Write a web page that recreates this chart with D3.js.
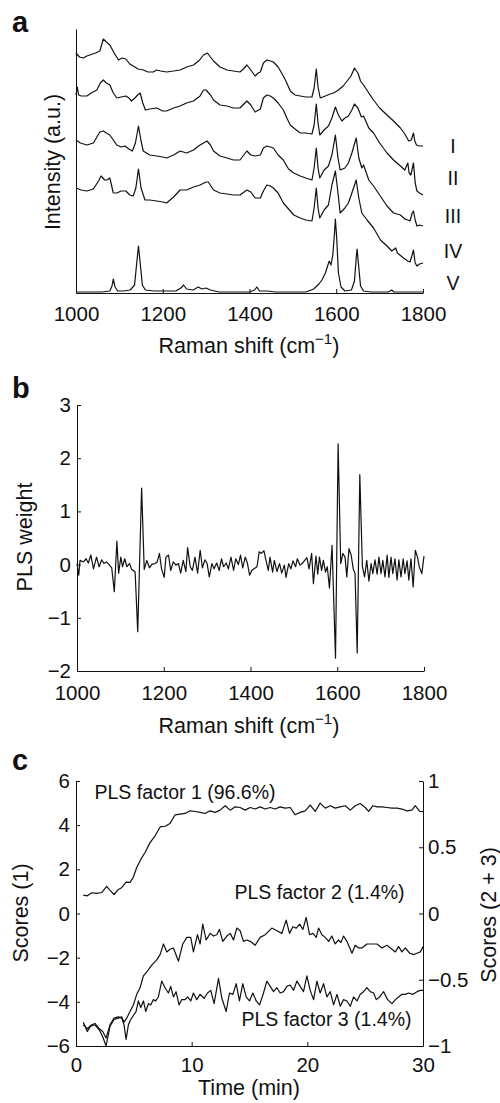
<!DOCTYPE html>
<html>
<head>
<meta charset="utf-8">
<script src="https://cdn.jsdelivr.net/npm/d3@7"></script>
<style>
  body { margin: 0; background: #fff; }
  svg text { font-family: "Liberation Sans", Arial, sans-serif; fill: #111; }
</style>
</head>
<body>
<div id="chart"></div>
<script>
// Raman spectra (a), PLS weight (b) and PLS scores over time (c)

// ---- panel a : spectra, [shift cm-1, intensity a.u.] ----
const specI = [[1000,240],[1008,236],[1017,235],[1025,237],[1032,238],[1045,240],[1055,242],[1063,254],[1070,251],[1078,248],[1088,240],[1098,233],[1106,235],[1115,234],[1124,229],[1132,227],[1143,224],[1155,223],[1166,221],[1178,221],[1186,223],[1195,222],[1209,221],[1225,222],[1240,223],[1255,226],[1271,228],[1285,233],[1294,238],[1303,240],[1310,236],[1317,232],[1332,226],[1348,223],[1363,222],[1378,221],[1386,224],[1394,228],[1403,223],[1413,217],[1420,220],[1425,221],[1432,230],[1440,233],[1448,232],[1455,231],[1466,226],[1478,217],[1486,210],[1494,202],[1505,198],[1517,197],[1530,196],[1544,196],[1549,205],[1554,224],[1558,206],[1563,195],[1575,197],[1586,199],[1594,200],[1605,203],[1616,207],[1625,212],[1634,217],[1642,225],[1650,220],[1656,212],[1663,208],[1675,200],[1686,193],[1700,185],[1717,178],[1732,172],[1748,165],[1758,159],[1767,152],[1773,153],[1778,160],[1781,152],[1785,148],[1792,147],[1800,147]];
const specII = [[1000,198],[1003,206],[1006,198],[1012,197],[1025,197],[1035,200],[1048,203],[1056,210],[1063,213],[1070,210],[1078,208],[1086,200],[1094,195],[1104,196],[1115,197],[1122,195],[1128,192],[1136,195],[1142,198],[1148,200],[1154,190],[1160,183],[1170,184],[1186,185],[1200,182],[1209,182],[1225,185],[1240,187],[1255,190],[1271,192],[1286,197],[1294,203],[1300,203],[1310,198],[1317,193],[1332,188],[1348,187],[1363,185],[1378,185],[1394,192],[1403,188],[1413,181],[1425,184],[1432,195],[1440,198],[1448,197],[1455,195],[1466,190],[1478,183],[1486,175],[1494,168],[1505,164],[1517,160],[1530,160],[1544,159],[1549,168],[1554,189],[1558,170],[1562,158],[1572,163],[1582,167],[1590,175],[1598,186],[1605,178],[1613,172],[1620,175],[1628,177],[1636,183],[1642,189],[1650,185],[1658,176],[1663,177],[1675,165],[1686,160],[1700,150],[1717,140],[1732,133],[1748,127],[1758,123],[1765,130],[1768,120],[1772,118],[1778,130],[1782,110],[1786,102],[1792,100],[1800,98]];
const specIII = [[1000,153],[1010,150],[1025,148],[1040,150],[1055,161],[1063,162],[1070,160],[1078,158],[1086,153],[1094,148],[1104,146],[1113,147],[1122,144],[1130,142],[1137,150],[1144,167],[1150,152],[1155,142],[1170,138],[1186,137],[1200,136],[1209,135],[1225,138],[1240,142],[1255,140],[1271,143],[1286,148],[1302,152],[1310,148],[1317,142],[1332,137],[1348,135],[1363,133],[1378,133],[1394,142],[1403,138],[1413,137],[1425,138],[1432,145],[1440,147],[1448,146],[1455,145],[1466,138],[1478,133],[1490,124],[1502,120],[1517,117],[1530,115],[1544,113],[1549,125],[1554,145],[1558,125],[1562,115],[1572,123],[1582,127],[1590,138],[1598,158],[1604,135],[1609,123],[1620,125],[1628,130],[1636,140],[1646,155],[1652,135],[1659,125],[1663,128],[1675,113],[1686,107],[1700,98],[1717,87],[1732,80],[1748,78],[1758,74],[1765,73],[1770,72],[1775,80],[1778,82],[1782,73],[1786,67],[1792,68],[1800,67]];
const specIV = [[1000,105],[1012,103],[1025,102],[1040,104],[1052,112],[1058,117],[1066,113],[1071,113],[1078,115],[1086,100],[1094,100],[1104,102],[1115,102],[1124,98],[1132,97],[1138,105],[1144,124],[1150,105],[1159,93],[1170,93],[1186,92],[1200,91],[1209,90],[1225,96],[1240,103],[1255,103],[1271,106],[1286,108],[1300,111],[1305,111],[1317,103],[1332,100],[1348,99],[1363,98],[1378,98],[1394,103],[1403,101],[1413,95],[1425,95],[1432,102],[1440,108],[1448,107],[1455,105],[1466,100],[1478,90],[1490,84],[1502,78],[1517,75],[1530,73],[1544,72],[1549,85],[1554,105],[1558,85],[1562,75],[1572,83],[1582,88],[1590,108],[1598,122],[1604,100],[1609,80],[1620,85],[1628,90],[1636,100],[1646,113],[1652,95],[1659,80],[1671,73],[1686,65],[1702,53],[1717,47],[1728,42],[1737,45],[1741,40],[1755,35],[1765,32],[1770,31],[1775,38],[1778,43],[1782,30],[1786,27],[1792,29],[1800,30]];
const specV = [[1000,1],[1020,1],[1040,1],[1060,1],[1078,2],[1083,7],[1086,14],[1090,6],[1096,2],[1110,2],[1125,3],[1135,8],[1140,30],[1144,47],[1148,30],[1153,8],[1160,3],[1180,2],[1200,2],[1230,2],[1242,5],[1248,8],[1255,4],[1270,3],[1282,6],[1290,4],[1300,5],[1310,3],[1330,1],[1360,1],[1400,1],[1412,3],[1417,6],[1423,2],[1440,2],[1460,1],[1500,1],[1530,1],[1548,4],[1560,9],[1567,13],[1575,20],[1580,27],[1584,32],[1588,28],[1592,38],[1596,60],[1598,74],[1601,55],[1605,20],[1611,6],[1620,2],[1635,3],[1642,12],[1646,35],[1648,44],[1651,30],[1656,7],[1663,2],[1680,1],[1720,1],[1728,3],[1733,1],[1760,1],[1800,1]];
const spectra = [specI, specII, specIII, specIV, specV];
const spectrumNames = ["I", "II", "III", "IV", "V"];
const spectrumLabelLevel = [140, 108, 70, 35, 3];   // intensity where each roman label sits
const shiftTicks = [1000, 1200, 1400, 1600, 1800];

// ---- panel b : PLS weight ----
const weightShift = [1000,1004,1007,1015,1021,1026,1032,1038,1045,1051,1057,1062,1068,1075,1080,1086,1092,1096,1101,1105,1110,1115,1121,1126,1130,1134,1140,1149,1155,1161,1167,1173,1180,1185,1190,1195,1201,1205,1211,1216,1222,1228,1234,1239,1245,1251,1255,1261,1266,1272,1278,1284,1289,1295,1300,1305,1311,1316,1322,1328,1333,1338,1344,1349,1355,1361,1366,1372,1377,1382,1388,1393,1398,1403,1408,1415,1420,1425,1431,1436,1441,1445,1451,1455,1461,1467,1472,1478,1482,1488,1493,1498,1504,1508,1514,1519,1525,1530,1535,1541,1545,1551,1555,1559,1564,1568,1573,1577,1582,1588,1596,1602,1608,1613,1618,1622,1627,1632,1637,1641,1646,1652,1658,1663,1668,1673,1678,1682,1687,1692,1696,1701,1705,1710,1715,1719,1724,1728,1733,1738,1742,1747,1752,1756,1761,1765,1770,1775,1780,1785,1789,1795,1800];
const weightValue = [0.02,-0.20,0.08,0.05,0.11,0.03,0.18,-0.08,0.14,-0.04,0.09,0.02,0.05,-0.01,-0.06,-0.51,0.44,-0.16,0.14,-0.04,0.11,-0.04,0.02,-0.09,-0.11,-0.14,-1.26,1.44,-0.09,0.08,-0.06,0.01,0.02,0.05,0.21,-0.08,-0.24,0.14,0.18,-0.11,0.05,-0.01,0.02,-0.16,0.08,-0.13,0.32,-0.04,-0.11,0.14,-0.16,0.27,-0.06,0.09,0.02,-0.23,0.02,-0.08,0.03,-0.11,0.11,-0.04,0.03,-0.08,0.14,-0.11,0.11,0.00,0.18,-0.06,0.14,0.02,-0.20,-0.11,-0.08,-0.04,0.24,0.21,0.26,0.07,-0.11,0.14,-0.14,0.08,-0.13,0.02,-0.16,-0.01,-0.24,0.02,-0.08,0.07,-0.04,0.11,-0.01,0.02,0.08,0.13,-0.08,0.21,-0.36,0.16,-0.18,0.14,-0.11,0.08,-0.14,-0.04,-0.44,0.36,-1.76,2.27,0.02,0.21,0.14,-0.23,0.30,0.18,-0.08,-0.17,-1.66,1.69,-0.04,-0.23,0.08,-0.31,0.02,-0.17,0.09,-0.18,0.14,-0.17,0.08,-0.23,0.18,-0.24,0.14,-0.17,0.11,-0.29,0.09,-0.23,0.11,-0.17,0.07,-0.29,0.11,-0.42,0.27,0.14,-0.04,-0.17,0.16];
const weightTicks = [-2, -1, 0, 1, 2, 3];

// ---- panel c : PLS scores vs time (min) ----
const factor1 = [[0.63,0.83],[0.98,0.80],[1.36,0.94],[1.79,0.91],[2.22,0.95],[2.65,1.23],[2.94,1.05],[3.29,0.86],[3.66,1.09],[3.95,1.17],[4.33,1.42],[4.67,1.41],[4.96,1.65],[5.25,2.08],[5.60,2.45],[5.97,2.76],[6.40,3.21],[6.84,3.52],[7.27,3.92],[7.70,3.95],[8.13,4.08],[8.57,4.47],[9.00,4.50],[9.43,4.53],[9.86,4.65],[10.30,4.62],[10.73,4.58],[11.16,4.53],[11.59,4.65],[12.03,4.58],[12.46,4.68],[12.89,4.88],[13.33,4.68],[13.76,4.83],[14.19,4.80],[14.62,4.68],[15.06,4.80],[15.49,4.73],[15.92,4.83],[16.35,4.73],[16.79,4.80],[17.22,4.73],[17.65,4.83],[18.08,4.77],[18.52,4.80],[18.95,4.47],[19.38,4.58],[19.82,4.65],[20.25,4.91],[20.68,4.62],[21.11,5.00],[21.55,4.77],[21.98,4.88],[22.41,4.77],[22.84,4.83],[23.28,4.88],[23.71,4.68],[24.14,4.88],[24.57,4.98],[25.01,4.80],[25.30,4.62],[25.67,4.88],[26.02,4.83],[26.45,4.83],[26.88,4.80],[27.31,4.77],[27.75,4.77],[28.18,4.73],[28.61,4.65],[29.04,4.68],[29.33,4.88],[29.71,4.62],[30.00,4.62]];
const factor2 = [[0.63,-0.82],[0.98,-0.89],[1.27,-0.85],[1.64,-0.84],[2.02,-0.88],[2.31,-0.93],[2.60,-1.00],[2.94,-0.85],[3.29,-0.80],[3.66,-0.79],[3.95,-0.78],[4.15,-0.82],[4.38,-0.79],[4.67,-0.74],[4.96,-0.69],[5.25,-0.61],[5.54,-0.56],[5.83,-0.47],[6.12,-0.44],[6.55,-0.39],[6.98,-0.35],[7.27,-0.31],[7.56,-0.23],[7.85,-0.29],[8.13,-0.27],[8.42,-0.26],[8.86,-0.36],[9.23,-0.23],[9.58,-0.18],[9.92,-0.18],[10.15,-0.29],[10.50,-0.16],[10.73,-0.23],[10.96,-0.08],[11.25,-0.20],[11.60,-0.15],[11.88,-0.17],[12.17,-0.16],[12.40,-0.12],[12.69,-0.21],[13.04,-0.17],[13.33,-0.15],[13.62,-0.20],[13.90,-0.11],[14.19,-0.13],[14.48,-0.21],[14.77,-0.20],[15.06,-0.21],[15.49,-0.24],[15.92,-0.18],[16.36,-0.16],[16.93,-0.11],[17.37,-0.13],[17.80,-0.15],[18.17,-0.05],[18.46,-0.15],[18.75,-0.10],[19.04,-0.11],[19.33,-0.08],[19.62,-0.12],[19.90,-0.03],[20.19,-0.16],[20.48,-0.15],[20.77,-0.18],[20.97,-0.11],[21.26,-0.16],[21.55,-0.18],[21.84,-0.21],[22.12,-0.17],[22.41,-0.23],[22.70,-0.20],[22.90,-0.22],[23.13,-0.17],[23.42,-0.21],[23.86,-0.30],[24.14,-0.24],[24.43,-0.26],[24.72,-0.26],[25.15,-0.23],[25.59,-0.23],[26.02,-0.23],[26.45,-0.26],[26.88,-0.24],[27.32,-0.27],[27.61,-0.29],[27.89,-0.25],[28.18,-0.29],[28.47,-0.26],[28.85,-0.30],[29.19,-0.31],[29.48,-0.30],[29.77,-0.29],[30.00,-0.25]];
const factor3 = [[0.63,-0.84],[0.98,-0.87],[1.36,-0.84],[1.64,-0.83],[2.02,-0.87],[2.31,-0.89],[2.60,-0.94],[2.94,-0.84],[3.29,-0.79],[3.66,-0.78],[3.95,-0.79],[4.15,-0.84],[4.33,-0.95],[4.53,-0.84],[4.73,-0.80],[4.96,-0.77],[5.19,-0.74],[5.39,-0.66],[5.60,-0.71],[5.83,-0.66],[6.03,-0.74],[6.26,-0.68],[6.46,-0.69],[6.69,-0.65],[6.89,-0.66],[7.12,-0.63],[7.41,-0.51],[7.70,-0.56],[7.99,-0.60],[8.19,-0.55],[8.42,-0.63],[8.65,-0.59],[8.91,-0.69],[9.14,-0.65],[9.43,-0.65],[9.66,-0.63],[9.92,-0.66],[10.15,-0.60],[10.44,-0.65],[10.73,-0.61],[11.08,-0.64],[11.37,-0.60],[11.65,-0.58],[11.94,-0.68],[12.32,-0.49],[12.61,-0.64],[12.98,-0.74],[13.27,-0.60],[13.56,-0.61],[13.85,-0.53],[14.13,-0.66],[14.42,-0.53],[14.71,-0.63],[15.00,-0.66],[15.29,-0.60],[15.58,-0.66],[15.87,-0.69],[16.21,-0.60],[16.50,-0.51],[16.79,-0.55],[17.08,-0.59],[17.37,-0.56],[17.65,-0.60],[17.94,-0.59],[18.23,-0.55],[18.52,-0.54],[18.81,-0.58],[19.10,-0.51],[19.38,-0.55],[19.67,-0.59],[19.96,-0.47],[20.25,-0.58],[20.54,-0.65],[20.83,-0.51],[21.11,-0.60],[21.40,-0.53],[21.69,-0.63],[21.98,-0.59],[22.27,-0.69],[22.56,-0.61],[22.85,-0.70],[23.13,-0.65],[23.42,-0.66],[23.71,-0.70],[24.00,-0.63],[24.29,-0.66],[24.58,-0.61],[24.86,-0.59],[25.15,-0.56],[25.44,-0.59],[25.73,-0.60],[25.96,-0.65],[26.25,-0.63],[26.60,-0.59],[26.94,-0.65],[27.32,-0.68],[27.61,-0.65],[27.89,-0.63],[28.18,-0.61],[28.47,-0.61],[28.76,-0.60],[29.13,-0.61],[29.48,-0.59],[29.77,-0.58],[30.00,-0.58]];
const timeTicks = [0, 10, 20, 30];
const scoreTicks = [-6, -4, -2, 0, 2, 4, 6];
const score23Ticks = [-1, -0.5, 0, 0.5, 1];
const factorLabels = ["PLS factor 1 (96.6%)", "PLS factor 2 (1.4%)", "PLS factor 3 (1.4%)"];

// plain numbers, real minus sign
const fmt = d => String(d).replace("-", "\u2212");
const tickFont = 20.5;
const titleFont = 21.5;
const noteFont = 19.5;

const svg = d3.select("#chart").append("svg")
  .attr("width", 500)
  .attr("height", 1103);

// style an axis group: thin black line, no default font
function styleAxis(g) {
  g.attr("font-family", null).attr("font-size", null);
  g.selectAll("path, line").attr("stroke", "#111").attr("stroke-width", 1);
  g.selectAll("text").attr("font-size", tickFont).attr("fill", "#111");
}

// x-axis title with superscript
function ramanTitle(y) {
  const t = svg.append("text")
    .attr("x", 249).attr("y", y)
    .attr("text-anchor", "middle")
    .attr("font-size", titleFont);
  t.append("tspan").text("Raman shift (cm");
  t.append("tspan").attr("dy", -9).attr("font-size", 15).text("\u22121");
  t.append("tspan").attr("dy", 9).text(")");
}

function panelLetter(txt, y) {
  svg.append("text").attr("x", 12).attr("y", y)
    .attr("font-size", 29).attr("font-weight", "bold").text(txt);
}

function rotatedLabel(txt, x, y) {
  svg.append("text")
    .attr("transform", `translate(${x},${y}) rotate(-90)`)
    .attr("text-anchor", "middle")
    .attr("font-size", titleFont)
    .text(txt);
}

// ================= panel a =================
const xA = d3.scaleLinear().domain([1000, 1800]).range([76, 423]);
const yA = d3.scaleLinear().domain([0, 264]).range([293, 29]);

const lineA = d3.line().x(d => xA(d[0])).y(d => yA(d[1]));
svg.append("g").selectAll("path")
  .data(spectra)
  .enter().append("path")
  .attr("d", lineA)
  .attr("fill", "none")
  .attr("stroke", "#111")
  .attr("stroke-width", 1.2)
  .attr("stroke-linejoin", "round");

svg.append("g")
  .attr("transform", "translate(0,293)")
  .call(d3.axisBottom(xA).tickValues(shiftTicks).tickFormat(fmt).tickSizeInner(-4).tickSizeOuter(0).tickPadding(13))
  .call(styleAxis);
svg.append("g")
  .attr("transform", "translate(76,0)")
  .call(d3.axisLeft(yA).tickValues([]).tickSizeOuter(0))
  .call(styleAxis);

svg.append("g").selectAll("text")
  .data(spectrumNames)
  .enter().append("text")
  .attr("x", 453)
  .attr("y", (d, i) => yA(spectrumLabelLevel[i]))
  .attr("text-anchor", "middle")
  .attr("font-size", noteFont)
  .text(d => d);

panelLetter("a", 32);
rotatedLabel("Intensity (a.u.)", 60, 162);
ramanTitle(353);

// ================= panel b =================
const xB = d3.scaleLinear().domain([1000, 1800]).range([77, 424]);
const yB = d3.scaleLinear().domain([-2, 3]).range([671, 405]);
const weightData = weightShift.map((s, i) => [s, weightValue[i]]);

svg.append("path")
  .datum(weightData)
  .attr("d", d3.line().x(d => xB(d[0])).y(d => yB(d[1])))
  .attr("fill", "none")
  .attr("stroke", "#111")
  .attr("stroke-width", 1.2)
  .attr("stroke-linejoin", "round");

svg.append("g")
  .attr("transform", "translate(0,671)")
  .call(d3.axisBottom(xB).tickValues(shiftTicks).tickFormat(fmt).tickSizeInner(-4).tickSizeOuter(0).tickPadding(14))
  .call(styleAxis);
svg.append("g")
  .attr("transform", "translate(77,0)")
  .call(d3.axisLeft(yB).tickValues(weightTicks).tickFormat(fmt).tickSizeInner(-4).tickSizeOuter(0).tickPadding(6))
  .call(styleAxis);

panelLetter("b", 398);
rotatedLabel("PLS weight", 32, 537);
ramanTitle(733);

// ================= panel c =================
const xC = d3.scaleLinear().domain([0, 30]).range([76, 423]);
const yC1 = d3.scaleLinear().domain([-6, 6]).range([1046, 781]);
const yC2 = d3.scaleLinear().domain([-1, 1]).range([1046, 781]);

const lineLeft = d3.line().x(d => xC(d[0])).y(d => yC1(d[1]));
const lineRight = d3.line().x(d => xC(d[0])).y(d => yC2(d[1]));

[[factor1, lineLeft], [factor2, lineRight], [factor3, lineRight]].forEach(([data, gen]) => {
  svg.append("path")
    .datum(data)
    .attr("d", gen)
    .attr("fill", "none")
    .attr("stroke", "#111")
    .attr("stroke-width", 1.2)
    .attr("stroke-linejoin", "round");
});

svg.append("g")
  .attr("transform", "translate(0,1046)")
  .call(d3.axisBottom(xC).tickValues(timeTicks).tickFormat(fmt).tickSizeInner(-4).tickSizeOuter(0).tickPadding(11))
  .call(styleAxis);
svg.append("g")
  .attr("transform", "translate(76,0)")
  .call(d3.axisLeft(yC1).tickValues(scoreTicks).tickFormat(fmt).tickSizeInner(-4).tickSizeOuter(0).tickPadding(6))
  .call(styleAxis);
svg.append("g")
  .attr("transform", "translate(423,0)")
  .call(d3.axisRight(yC2).tickValues(score23Ticks).tickFormat(fmt).tickSizeInner(-4).tickSizeOuter(0).tickPadding(5))
  .call(styleAxis);

// factor annotations
const factorAnchor = [[1.6, 5.2], [13.7, 0.11], [14.3, -0.85]];
svg.append("g").selectAll("text")
  .data(factorLabels)
  .enter().append("text")
  .attr("x", (d, i) => xC(factorAnchor[i][0]))
  .attr("y", (d, i) => i === 0 ? yC1(factorAnchor[i][1]) : yC2(factorAnchor[i][1]))
  .attr("font-size", noteFont)
  .text(d => d);

panelLetter("c", 770);
rotatedLabel("Scores (1)", 28, 913);
rotatedLabel("Scores (2 + 3)", 496, 915);
svg.append("text")
  .attr("x", 249).attr("y", 1095)
  .attr("text-anchor", "middle")
  .attr("font-size", titleFont)
  .text("Time (min)");
</script>
</body>
</html>
